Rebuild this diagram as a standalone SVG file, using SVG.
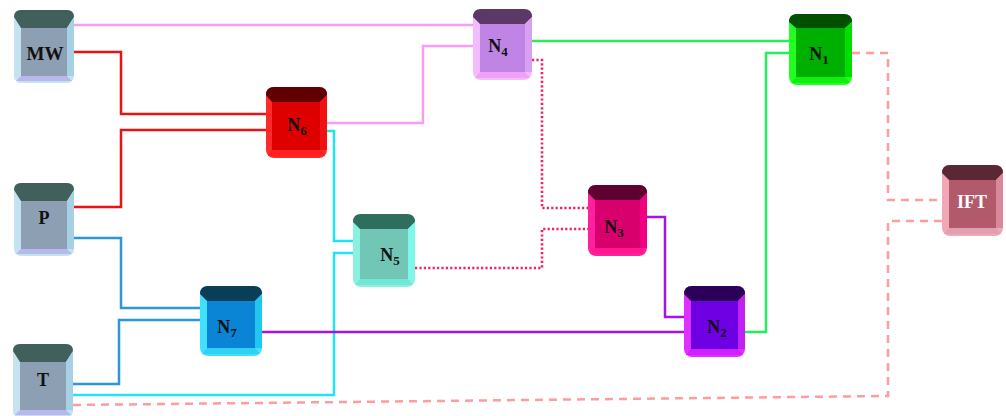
<svg xmlns="http://www.w3.org/2000/svg" width="1006" height="416" viewBox="0 0 1006 416">
<style>
.e{fill:none;stroke-width:2.5}
.pink{stroke:#f79ef4}.red{stroke:#ee1111}.blue{stroke:#2a98d6}.cyan{stroke:#20e4f4}
.purple{stroke:#a214e2}.green{stroke:#26ee5a}
.dot{stroke:#ee2266;stroke-width:2.6;stroke-dasharray:2.2 2.2}
.dash{stroke:#ff9c9c;stroke-dasharray:8 6}
text{font-family:"Liberation Serif","Times New Roman",serif;font-weight:bold;font-size:18px;text-anchor:middle;fill:#111}
.sub{font-size:13px}
.gray .s{fill:#c4e2f0}.gray .t{fill:#41605c}.gray .f{fill:#8d9fb2}.gray .r{fill:#a6d0e4}.gray .b{fill:#b8b8ec}
.c6 .s{fill:#ff2a2a}.c6 .t{fill:#600000}.c6 .f{fill:#de0000}.c6 .r{fill:#f01212}.c6 .b{fill:#ff2020}
.c4 .s{fill:#f2bcff}.c4 .t{fill:#5c3866}.c4 .f{fill:#c084e4}.c4 .r{fill:#d8a0f0}.c4 .b{fill:#f0a0f8}
.c5 .s{fill:#8af0e0}.c5 .t{fill:#2e6e5c}.c5 .f{fill:#72c6b6}.c5 .r{fill:#7cf8e8}.c5 .b{fill:#70e8d8}
.c7 .s{fill:#40e0ff}.c7 .t{fill:#0a3e58}.c7 .f{fill:#0a84d4}.c7 .r{fill:#20c8f0}.c7 .b{fill:#30d0f0}
.c3 .s{fill:#ff20a0}.c3 .t{fill:#5e0030}.c3 .f{fill:#d8006c}.c3 .r{fill:#f00080}.c3 .b{fill:#ff1890}
.c2 .s{fill:#e030ff}.c2 .t{fill:#2c0058}.c2 .f{fill:#7000e4}.c2 .r{fill:#c020f0}.c2 .b{fill:#d020ff}
.c1 .s{fill:#20ff20}.c1 .t{fill:#005000}.c1 .f{fill:#00b000}.c1 .r{fill:#00e000}.c1 .b{fill:#10f010}
.ci .s{fill:#f0a8b4}.ci .t{fill:#5a2834}.ci .f{fill:#b25a6c}.ci .r{fill:#d88898}.ci .b{fill:#e0a0b0}
.ci text{fill:#fff}
</style>
<g id="connectors">
<path class="e pink" d="M74,25 H474"/>
<path class="e pink" d="M327,123 H423 V46 H474"/>
<path class="e red" d="M74,52 H121 V114 H266"/>
<path class="e red" d="M74,207 H121 V130 H266"/>
<path class="e blue" d="M74,238 H121 V308 H200"/>
<path class="e blue" d="M73,384 H119 V320 H200"/>
<path class="e cyan" d="M325,131 H334 V241 H353"/>
<path class="e cyan" d="M73,395 H334 V253 H353"/>
<path class="e purple" d="M262,332 H684"/>
<path class="e purple" d="M647,217 H665 V317 H684"/>
<path class="e green" d="M532,41 H789"/>
<path class="e green" d="M745,332 H766 V53 H789"/>
<path class="e dot" d="M532,60 H542 V208 H588"/>
<path class="e dot" d="M415,268 H542 V229 H588"/>
<path class="e dash" d="M852,53 H888 V200 H942"/>
<path class="e dash" d="M73,405 L888,396 V221 H942"/>
</g>
<g id="MW" class="gray">
<rect class="s" x="14" y="10" width="60" height="73" rx="7"/>
<path class="t" d="M21,10 H67 Q74,10 74,17 L67,28 H21 L14,17 Q14,10 21,10 Z"/>
<path class="r" d="M67,28 L74,17 V76 L67,76 Z"/>
<path class="b" d="M21,76 H67 L72,81 H16 Z"/>
<rect class="f" x="21" y="28" width="46" height="48"/>
<text x="45" y="60" style="font-size:19px">MW</text>
</g>
<g id="P" class="gray">
<rect class="s" x="14" y="183" width="60" height="73" rx="7"/>
<path class="t" d="M21,183 H67 Q74,183 74,190 L67,201 H21 L14,190 Q14,183 21,183 Z"/>
<path class="r" d="M67,201 L74,190 V249 L67,249 Z"/>
<path class="b" d="M21,249 H67 L72,254 H16 Z"/>
<rect class="f" x="21" y="201" width="46" height="48"/>
<text x="44" y="224">P</text>
</g>
<g id="T" class="gray">
<rect class="s" x="13" y="344" width="60" height="74" rx="7"/>
<path class="t" d="M20,344 H66 Q73,344 73,351 L66,362 H20 L13,351 Q13,344 20,344 Z"/>
<path class="r" d="M66,362 L73,351 V410 L66,410 Z"/>
<path class="b" d="M20,410 H66 L71,415 H15 Z"/>
<rect class="f" x="20" y="362" width="46" height="48"/>
<text x="43" y="386">T</text>
</g>
<g id="N6" class="c6">
<rect class="s" x="266" y="87" width="61" height="71" rx="8"/>
<path class="t" d="M274,87 H319 Q327,87 327,95 L320,102 H272 L266,95 Q266,87 274,87 Z"/>
<path class="r" d="M320,102 L327,95 V150 L320,150 Z"/>
<path class="b" d="M272,150 H320 L325,156 H268 Z"/>
<rect class="f" x="272" y="102" width="48" height="48"/>
<text x="297" y="131">N<tspan class="sub" dy="4">6</tspan></text>
</g>
<g id="N4" class="c4">
<rect class="s" x="473" y="9" width="59" height="71" rx="8"/>
<path class="t" d="M481,9 H524 Q532,9 532,17 L525,24 H480 L473,17 Q473,9 481,9 Z"/>
<path class="r" d="M525,24 L532,17 V72 L525,72 Z"/>
<path class="b" d="M480,72 H525 L530,78 H475 Z"/>
<rect class="f" x="480" y="24" width="45" height="48"/>
<text x="498" y="52">N<tspan class="sub" dy="4">4</tspan></text>
</g>
<g id="N5" class="c5">
<rect class="s" x="353" y="214" width="62" height="73" rx="8"/>
<path class="t" d="M361,214 H407 Q415,214 415,222 L408,229 H360 L353,222 Q353,214 361,214 Z"/>
<path class="r" d="M408,229 L415,222 V279 L408,279 Z"/>
<path class="b" d="M360,279 H408 L413,285 H355 Z"/>
<rect class="f" x="360" y="229" width="48" height="50"/>
<text x="390" y="261">N<tspan class="sub" dy="4">5</tspan></text>
</g>
<g id="N7" class="c7">
<rect class="s" x="200" y="286" width="62" height="70" rx="8"/>
<path class="t" d="M208,286 H254 Q262,286 262,294 L255,301 H207 L200,294 Q200,286 208,286 Z"/>
<path class="r" d="M255,301 L262,294 V348 L255,348 Z"/>
<path class="b" d="M207,348 H255 L260,354 H202 Z"/>
<rect class="f" x="207" y="301" width="48" height="47"/>
<text x="227" y="333">N<tspan class="sub" dy="4">7</tspan></text>
</g>
<g id="N3" class="c3">
<rect class="s" x="588" y="185" width="59" height="71" rx="8"/>
<path class="t" d="M596,185 H639 Q647,185 647,193 L640,200 H595 L588,193 Q588,185 596,185 Z"/>
<path class="r" d="M640,200 L647,193 V248 L640,248 Z"/>
<path class="b" d="M595,248 H640 L645,254 H590 Z"/>
<rect class="f" x="595" y="200" width="45" height="48"/>
<text x="614" y="233">N<tspan class="sub" dy="4">3</tspan></text>
</g>
<g id="N2" class="c2">
<rect class="s" x="684" y="286" width="61" height="71" rx="8"/>
<path class="t" d="M692,286 H737 Q745,286 745,294 L738,301 H691 L684,294 Q684,286 692,286 Z"/>
<path class="r" d="M738,301 L745,294 V349 L738,349 Z"/>
<path class="b" d="M691,349 H738 L743,355 H686 Z"/>
<rect class="f" x="691" y="301" width="47" height="48"/>
<text x="717" y="333">N<tspan class="sub" dy="4">2</tspan></text>
</g>
<g id="N1" class="c1">
<rect class="s" x="789" y="14" width="63" height="71" rx="8"/>
<path class="t" d="M797,14 H844 Q852,14 852,22 L845,28 H796 L789,22 Q789,14 797,14 Z"/>
<path class="r" d="M845,28 L852,22 V77 L845,77 Z"/>
<path class="b" d="M796,77 H845 L850,83 H791 Z"/>
<rect class="f" x="796" y="28" width="49" height="49"/>
<text x="819" y="60">N<tspan class="sub" dy="4">1</tspan></text>
</g>
<g id="IFT" class="ci">
<rect class="s" x="942" y="165" width="61" height="71" rx="8"/>
<path class="t" d="M950,165 H995 Q1003,165 1003,173 L996,180 H949 L942,173 Q942,165 950,165 Z"/>
<path class="r" d="M996,180 L1003,173 V228 L996,228 Z"/>
<path class="b" d="M949,228 H996 L1001,234 H944 Z"/>
<rect class="f" x="949" y="180" width="47" height="48"/>
<text x="972" y="208">IFT</text>
</g>
</svg>
